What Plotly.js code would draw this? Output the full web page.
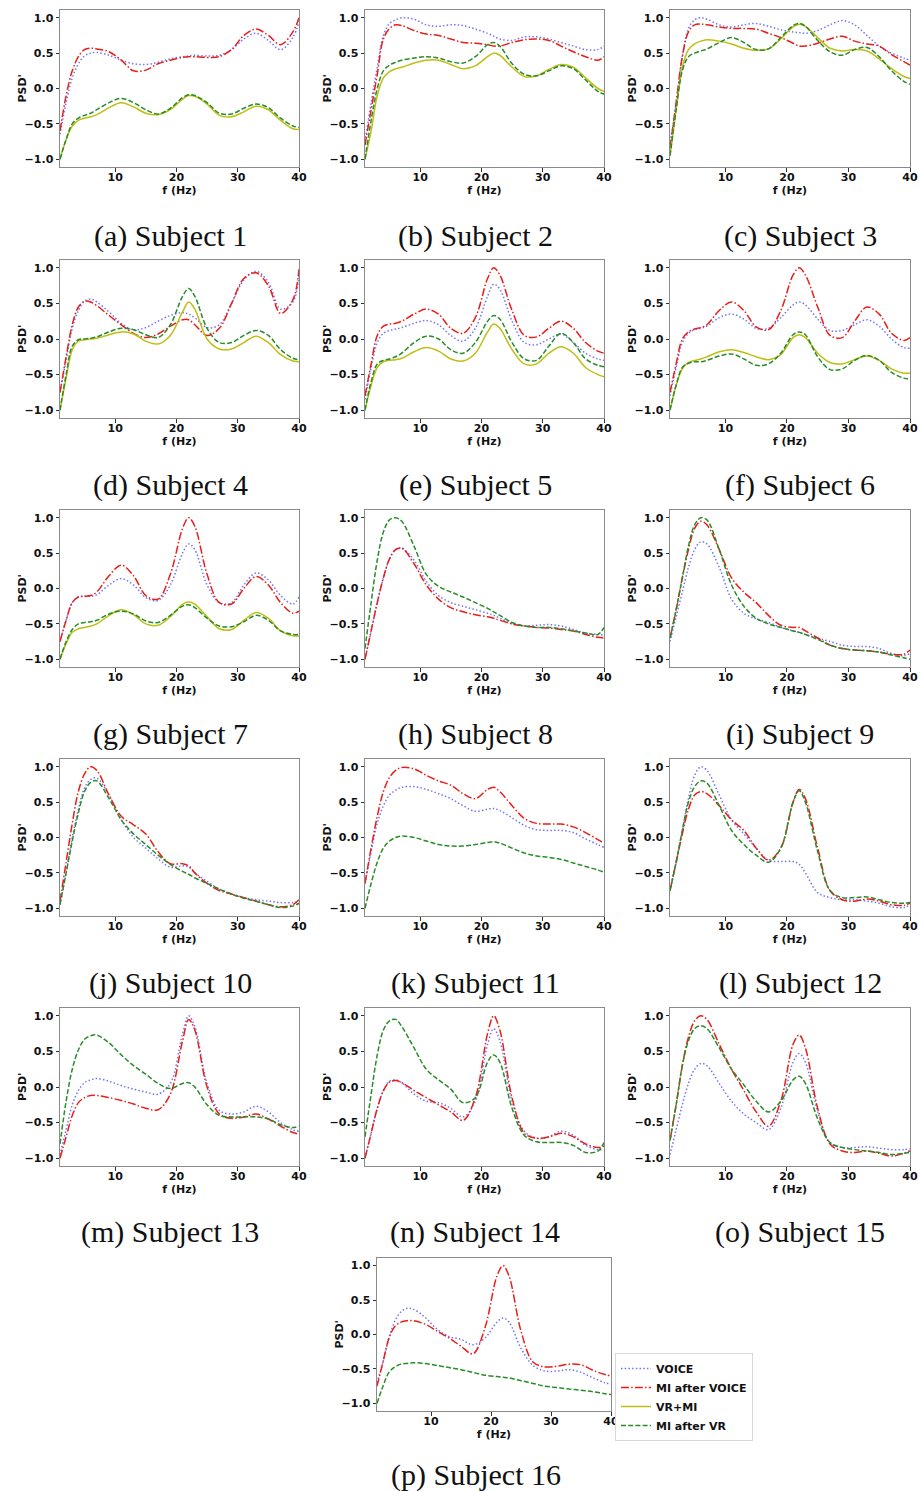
<!DOCTYPE html>
<html>
<head>
<meta charset="utf-8">
<script src="https://cdn.plot.ly/plotly-3.0.1.min.js"></script>
<style>html,body{margin:0;padding:0;background:#fff;}#chart{width:921px;height:1491px;}</style>
</head>
<body>
<div id="chart"></div>
<script>
// Frequency grid (Hz)
const F = [1,2,3,4,5,6,7,9,11,13,15,17,19,21,22,23,25,27,29,31,33,35,37,39,40];

const SERIES_NAMES = ['VOICE','MI after VOICE','VR+MI','MI after VR'];
const CAPTIONS = ['(a) Subject 1','(b) Subject 2','(c) Subject 3','(d) Subject 4','(e) Subject 5','(f) Subject 6',
  '(g) Subject 7','(h) Subject 8','(i) Subject 9','(j) Subject 10','(k) Subject 11','(l) Subject 12',
  '(m) Subject 13','(n) Subject 14','(o) Subject 15','(p) Subject 16'];
const X_TICKS = [10,20,30,40];
const Y_TICKS = [-1,-0.5,0,0.5,1];
const X_TITLE = 'f (Hz)';
const Y_TITLE = "PSD'";

// VOICE (PSD') per subject
const VOICE = [
 [-0.65,-0.2,0.15,0.35,0.46,0.5,0.51,0.47,0.4,0.35,0.34,0.37,0.42,0.45,0.46,0.47,0.46,0.47,0.55,0.7,0.78,0.68,0.55,0.72,0.95],
 [-0.75,-0.2,0.3,0.75,0.92,0.97,1.0,0.98,0.9,0.88,0.9,0.89,0.84,0.78,0.74,0.7,0.68,0.73,0.73,0.7,0.65,0.6,0.55,0.55,0.6],
 [-0.8,-0.2,0.45,0.85,0.97,1.0,0.98,0.9,0.87,0.9,0.92,0.88,0.83,0.8,0.79,0.78,0.82,0.9,0.96,0.9,0.75,0.6,0.5,0.43,0.4],
 [-0.75,-0.3,0.15,0.4,0.53,0.56,0.52,0.38,0.22,0.13,0.16,0.25,0.33,0.37,0.35,0.3,0.16,0.2,0.5,0.83,0.95,0.8,0.42,0.52,0.9],
 [-0.85,-0.4,-0.05,0.08,0.12,0.14,0.16,0.22,0.26,0.2,0.05,-0.03,0.15,0.6,0.77,0.7,0.25,-0.05,-0.08,0.0,0.07,-0.05,-0.2,-0.28,-0.3],
 [-0.8,-0.4,-0.05,0.08,0.13,0.15,0.18,0.3,0.35,0.28,0.15,0.15,0.3,0.48,0.52,0.48,0.28,0.12,0.12,0.2,0.27,0.18,0.0,-0.12,-0.13],
 [-0.75,-0.45,-0.2,-0.12,-0.11,-0.11,-0.09,0.05,0.14,0.05,-0.13,-0.17,0.05,0.5,0.63,0.55,0.05,-0.2,-0.2,0.05,0.22,0.12,-0.1,-0.22,-0.12],
 [-1.0,-0.6,-0.2,0.15,0.42,0.55,0.57,0.4,0.1,-0.1,-0.2,-0.25,-0.3,-0.35,-0.38,-0.42,-0.5,-0.53,-0.52,-0.51,-0.53,-0.58,-0.63,-0.65,-0.66],
 [-0.75,-0.4,-0.05,0.3,0.55,0.66,0.63,0.3,-0.15,-0.35,-0.43,-0.48,-0.55,-0.6,-0.62,-0.65,-0.7,-0.75,-0.8,-0.82,-0.82,-0.85,-0.92,-0.95,-0.92],
 [-0.95,-0.5,0.0,0.4,0.7,0.82,0.84,0.6,0.25,0.0,-0.15,-0.3,-0.42,-0.4,-0.42,-0.5,-0.62,-0.73,-0.8,-0.85,-0.88,-0.9,-0.92,-0.92,-0.9],
 [-0.65,-0.2,0.2,0.45,0.6,0.67,0.71,0.72,0.68,0.62,0.55,0.45,0.37,0.4,0.41,0.38,0.28,0.17,0.11,0.1,0.1,0.07,-0.02,-0.1,-0.14],
 [-0.75,-0.35,0.1,0.55,0.88,1.0,0.95,0.6,0.25,0.05,-0.15,-0.32,-0.34,-0.34,-0.38,-0.5,-0.78,-0.85,-0.88,-0.88,-0.9,-0.93,-0.98,-0.99,-0.95],
 [-0.95,-0.6,-0.25,-0.05,0.06,0.1,0.12,0.08,0.02,-0.03,-0.07,-0.1,0.05,0.75,1.0,0.85,0.05,-0.33,-0.38,-0.35,-0.27,-0.35,-0.5,-0.6,-0.62],
 [-1.0,-0.65,-0.3,-0.05,0.08,0.1,0.06,-0.1,-0.2,-0.22,-0.3,-0.42,-0.2,0.6,0.82,0.65,-0.2,-0.62,-0.72,-0.7,-0.62,-0.68,-0.82,-0.88,-0.88],
 [-0.95,-0.6,-0.25,0.05,0.25,0.33,0.3,0.05,-0.2,-0.38,-0.5,-0.6,-0.3,0.35,0.47,0.35,-0.35,-0.78,-0.85,-0.85,-0.84,-0.86,-0.88,-0.88,-0.87],
 [-0.7,-0.4,-0.05,0.2,0.33,0.38,0.37,0.25,0.08,-0.03,-0.07,-0.15,-0.05,0.18,0.24,0.18,-0.2,-0.45,-0.53,-0.53,-0.51,-0.55,-0.63,-0.7,-0.72]
];

// MI after VOICE
const MI_AFTER_VOICE = [
 [-0.6,-0.1,0.25,0.45,0.55,0.57,0.56,0.52,0.4,0.25,0.26,0.35,0.4,0.44,0.45,0.45,0.44,0.45,0.55,0.75,0.84,0.75,0.62,0.8,1.0],
 [-0.8,-0.3,0.2,0.7,0.85,0.9,0.89,0.82,0.77,0.75,0.7,0.65,0.64,0.62,0.6,0.6,0.65,0.69,0.7,0.68,0.6,0.52,0.45,0.4,0.45],
 [-0.85,-0.2,0.45,0.8,0.9,0.91,0.9,0.87,0.85,0.85,0.84,0.78,0.72,0.64,0.6,0.6,0.64,0.7,0.74,0.67,0.63,0.6,0.48,0.38,0.33],
 [-0.75,-0.25,0.2,0.45,0.53,0.52,0.47,0.33,0.2,0.08,0.02,0.07,0.18,0.27,0.27,0.2,0.05,0.15,0.5,0.85,0.93,0.75,0.36,0.55,0.98],
 [-0.8,-0.35,0.05,0.18,0.21,0.22,0.25,0.35,0.42,0.35,0.15,0.08,0.3,0.85,1.0,0.9,0.4,0.05,0.03,0.15,0.25,0.15,-0.05,-0.17,-0.2],
 [-0.75,-0.35,0.0,0.1,0.14,0.16,0.2,0.4,0.52,0.4,0.17,0.13,0.4,0.9,1.0,0.9,0.45,0.05,0.02,0.25,0.45,0.35,0.08,-0.02,0.02],
 [-0.75,-0.45,-0.2,-0.12,-0.11,-0.1,-0.05,0.18,0.33,0.18,-0.1,-0.15,0.2,0.85,1.0,0.88,0.2,-0.2,-0.22,0.0,0.17,0.05,-0.2,-0.35,-0.32],
 [-1.0,-0.6,-0.2,0.15,0.42,0.55,0.57,0.35,0.05,-0.15,-0.27,-0.33,-0.37,-0.4,-0.42,-0.45,-0.5,-0.53,-0.55,-0.56,-0.58,-0.6,-0.65,-0.69,-0.7],
 [-0.7,-0.3,0.15,0.55,0.85,0.95,0.9,0.55,0.15,-0.05,-0.2,-0.38,-0.52,-0.55,-0.55,-0.6,-0.7,-0.8,-0.85,-0.87,-0.88,-0.9,-0.93,-0.93,-0.87],
 [-0.9,-0.35,0.2,0.65,0.9,1.0,0.95,0.6,0.3,0.18,0.05,-0.2,-0.37,-0.37,-0.4,-0.5,-0.65,-0.75,-0.8,-0.85,-0.9,-0.95,-0.98,-0.95,-0.88],
 [-0.65,-0.15,0.3,0.65,0.85,0.95,0.99,0.97,0.88,0.8,0.74,0.62,0.55,0.68,0.71,0.65,0.45,0.27,0.2,0.19,0.19,0.15,0.07,-0.03,-0.08],
 [-0.75,-0.35,0.05,0.4,0.6,0.65,0.62,0.45,0.25,0.1,-0.15,-0.32,-0.15,0.5,0.68,0.55,-0.15,-0.75,-0.88,-0.9,-0.87,-0.9,-0.95,-0.96,-0.93],
 [-1.0,-0.7,-0.4,-0.22,-0.15,-0.12,-0.12,-0.15,-0.19,-0.24,-0.3,-0.32,-0.1,0.65,0.95,0.8,0.0,-0.38,-0.44,-0.42,-0.38,-0.45,-0.55,-0.64,-0.66],
 [-1.0,-0.65,-0.3,-0.05,0.07,0.09,0.06,-0.05,-0.15,-0.25,-0.35,-0.47,-0.15,0.75,1.0,0.8,-0.15,-0.65,-0.72,-0.7,-0.65,-0.7,-0.8,-0.85,-0.83],
 [-0.75,-0.25,0.3,0.7,0.93,1.0,0.95,0.6,0.25,-0.05,-0.35,-0.55,-0.2,0.6,0.73,0.55,-0.3,-0.8,-0.9,-0.92,-0.9,-0.93,-0.97,-0.93,-0.9],
 [-0.75,-0.4,-0.05,0.12,0.18,0.2,0.2,0.15,0.05,-0.05,-0.17,-0.28,0.1,0.85,1.0,0.85,0.05,-0.4,-0.47,-0.46,-0.43,-0.44,-0.52,-0.58,-0.6]
];

// VR+MI (only subjects 1-7)
const VR_MI = [
 [-1.0,-0.72,-0.53,-0.45,-0.42,-0.4,-0.37,-0.27,-0.2,-0.26,-0.35,-0.37,-0.3,-0.15,-0.1,-0.11,-0.22,-0.38,-0.4,-0.33,-0.25,-0.3,-0.45,-0.57,-0.58],
 [-1.0,-0.6,-0.1,0.15,0.24,0.28,0.3,0.36,0.4,0.4,0.34,0.28,0.32,0.45,0.5,0.47,0.3,0.17,0.18,0.27,0.34,0.3,0.15,0.0,-0.04],
 [-0.95,-0.3,0.3,0.55,0.63,0.67,0.69,0.67,0.63,0.57,0.54,0.56,0.7,0.87,0.91,0.88,0.72,0.57,0.53,0.55,0.53,0.42,0.28,0.17,0.14],
 [-1.0,-0.55,-0.15,-0.03,-0.01,0.0,0.01,0.06,0.1,0.07,-0.03,-0.07,0.05,0.38,0.52,0.42,0.0,-0.14,-0.14,-0.05,0.04,-0.05,-0.22,-0.31,-0.32],
 [-1.0,-0.65,-0.4,-0.32,-0.3,-0.29,-0.27,-0.18,-0.12,-0.17,-0.28,-0.31,-0.2,0.1,0.21,0.15,-0.15,-0.35,-0.35,-0.2,-0.11,-0.2,-0.4,-0.5,-0.53],
 [-1.0,-0.65,-0.42,-0.33,-0.3,-0.28,-0.25,-0.18,-0.15,-0.19,-0.25,-0.29,-0.22,0.02,0.06,0.02,-0.2,-0.33,-0.35,-0.29,-0.24,-0.3,-0.42,-0.48,-0.48],
 [-1.0,-0.78,-0.62,-0.57,-0.55,-0.53,-0.5,-0.38,-0.3,-0.37,-0.5,-0.52,-0.4,-0.22,-0.19,-0.22,-0.4,-0.57,-0.58,-0.45,-0.34,-0.42,-0.6,-0.67,-0.67],
 null,null,null,null,null,null,null,null,null
];

// MI after VR
const MI_AFTER_VR = [
 [-1.0,-0.72,-0.5,-0.42,-0.38,-0.35,-0.3,-0.2,-0.14,-0.2,-0.3,-0.36,-0.28,-0.13,-0.09,-0.1,-0.2,-0.35,-0.36,-0.28,-0.22,-0.27,-0.42,-0.53,-0.55],
 [-1.0,-0.45,0.0,0.25,0.33,0.37,0.4,0.43,0.45,0.43,0.38,0.36,0.45,0.62,0.65,0.6,0.35,0.2,0.18,0.25,0.32,0.28,0.12,-0.04,-0.08],
 [-0.95,-0.3,0.25,0.45,0.5,0.53,0.56,0.65,0.72,0.65,0.55,0.56,0.72,0.89,0.92,0.88,0.68,0.52,0.47,0.55,0.58,0.45,0.25,0.1,0.06],
 [-1.0,-0.5,-0.1,-0.01,0.0,0.01,0.03,0.1,0.15,0.13,0.06,0.02,0.2,0.6,0.71,0.6,0.15,-0.05,-0.05,0.05,0.12,0.05,-0.15,-0.27,-0.29],
 [-1.0,-0.6,-0.35,-0.3,-0.28,-0.25,-0.2,-0.05,0.04,0.0,-0.15,-0.2,-0.05,0.25,0.33,0.28,-0.05,-0.28,-0.3,-0.1,0.08,-0.05,-0.28,-0.37,-0.39],
 [-1.0,-0.65,-0.4,-0.34,-0.32,-0.32,-0.3,-0.24,-0.21,-0.28,-0.37,-0.35,-0.2,0.06,0.1,0.06,-0.25,-0.43,-0.42,-0.3,-0.23,-0.3,-0.47,-0.55,-0.56],
 [-1.0,-0.75,-0.58,-0.5,-0.48,-0.47,-0.45,-0.36,-0.32,-0.36,-0.46,-0.48,-0.38,-0.25,-0.23,-0.27,-0.42,-0.53,-0.54,-0.47,-0.38,-0.45,-0.6,-0.65,-0.65],
 [-0.85,-0.2,0.4,0.8,0.97,1.0,0.95,0.6,0.2,0.03,-0.05,-0.12,-0.2,-0.28,-0.33,-0.38,-0.48,-0.53,-0.55,-0.55,-0.57,-0.6,-0.63,-0.65,-0.55],
 [-0.7,-0.3,0.15,0.6,0.9,1.0,0.97,0.55,0.05,-0.25,-0.42,-0.5,-0.55,-0.6,-0.62,-0.65,-0.72,-0.8,-0.85,-0.87,-0.88,-0.9,-0.94,-0.98,-1.0],
 [-0.95,-0.5,-0.05,0.35,0.65,0.78,0.8,0.55,0.25,0.05,-0.1,-0.25,-0.38,-0.48,-0.52,-0.57,-0.65,-0.73,-0.8,-0.86,-0.9,-0.95,-0.99,-0.97,-0.93],
 [-1.0,-0.65,-0.35,-0.15,-0.05,0.0,0.02,0.0,-0.05,-0.1,-0.12,-0.12,-0.1,-0.07,-0.06,-0.08,-0.15,-0.22,-0.26,-0.28,-0.31,-0.36,-0.41,-0.46,-0.49],
 [-0.75,-0.35,0.1,0.5,0.72,0.8,0.77,0.45,0.1,-0.1,-0.25,-0.35,-0.15,0.5,0.66,0.5,-0.2,-0.75,-0.85,-0.85,-0.84,-0.88,-0.92,-0.93,-0.92],
 [-0.8,-0.2,0.25,0.52,0.67,0.72,0.73,0.62,0.45,0.3,0.18,0.05,-0.02,0.05,0.06,0.0,-0.25,-0.4,-0.42,-0.42,-0.42,-0.45,-0.53,-0.57,-0.55],
 [-0.7,-0.1,0.45,0.8,0.93,0.95,0.85,0.55,0.25,0.1,-0.03,-0.22,-0.15,0.35,0.45,0.35,-0.3,-0.68,-0.77,-0.78,-0.78,-0.82,-0.92,-0.9,-0.78],
 [-0.75,-0.25,0.3,0.65,0.82,0.86,0.82,0.55,0.25,0.03,-0.2,-0.35,-0.2,0.1,0.15,0.05,-0.45,-0.78,-0.85,-0.88,-0.9,-0.92,-0.95,-0.93,-0.92],
 [-1.0,-0.75,-0.55,-0.47,-0.43,-0.42,-0.41,-0.42,-0.45,-0.48,-0.51,-0.55,-0.59,-0.61,-0.62,-0.63,-0.67,-0.71,-0.75,-0.77,-0.79,-0.81,-0.83,-0.86,-0.87]
];

// ---- styling & layout (not data) ----
const W = 921, H = 1491;
const STYLES = [
  {color:'rgba(70,70,245,0.75)', dash:'1.5px,2.2px', width:1.5},
  {color:'rgb(232,30,25)', dash:'8px,2.2px,1.5px,2.2px', width:1.5},
  {color:'rgb(190,190,20)', dash:'solid', width:1.5},
  {color:'rgb(40,140,40)', dash:'5px,2.2px', width:1.5}
];
const SERIES = [VOICE, MI_AFTER_VOICE, VR_MI, MI_AFTER_VR];

const colX = [[60,299],[365,604],[670,910]];
const rowY = [[10,167],[260,418],[510,667],[759,916],[1008,1166]];
const capX = [170,475,800];
const capY0 = 236, capDY = 249;

function boxes(i){
  if(i<15){ const r=Math.floor(i/3), c=i%3; return {x:colX[c], y:rowY[r], cx:capX[c], cy:capY0+capDY*r}; }
  return {x:[377,611], y:[1258,1411], cx:476, cy:1475};
}

const tickFont = {family:'DejaVu Sans', size:11, color:'#111', weight:'bold'};
const traces = [];
const layout = {
  width:W, height:H, margin:{l:0,r:0,t:0,b:0},
  paper_bgcolor:'#fff', plot_bgcolor:'#fff',
  showlegend:true,
  legend:{x:615/W, y:1-1353/H, xanchor:'left', yanchor:'top', bgcolor:'#fff',
          bordercolor:'#d8d8d8', borderwidth:1, itemwidth:30,
          font:{family:'DejaVu Sans', size:11, color:'#111', weight:'bold'}, tracegroupgap:0},
  annotations:[]
};

for(let i=0;i<16;i++){
  const b = boxes(i);
  const xa = 'xaxis'+(i+1), ya = 'yaxis'+(i+1);
  layout[xa] = {domain:[b.x[0]/W, b.x[1]/W], anchor:'y'+(i+1), range:[1,40],
    tickvals:X_TICKS, ticks:'outside', ticklen:3.5, tickwidth:1, tickcolor:'#333',
    ticklabelstandoff:-4,
    showgrid:false, zeroline:false, showline:true, mirror:true, linecolor:'#8a8a8a', linewidth:1,
    tickfont:tickFont, title:{text:X_TITLE, font:tickFont, standoff:0}};
  layout[ya] = {domain:[1-b.y[1]/H, 1-b.y[0]/H], anchor:'x'+(i+1), range:[-1.11,1.11],
    tickvals:Y_TICKS, tickformat:'.1f', ticks:'outside', ticklen:3.5, tickwidth:1, tickcolor:'#333',
    showgrid:false, zeroline:false, showline:true, mirror:true, linecolor:'#8a8a8a', linewidth:1,
    tickfont:tickFont};
  for(let s=0;s<4;s++){
    const ys = SERIES[s][i];
    if(!ys) continue;
    traces.push({x:F, y:ys, xaxis:'x'+(i+1), yaxis:'y'+(i+1), type:'scatter', mode:'lines',
      name:SERIES_NAMES[s], legendgroup:SERIES_NAMES[s], showlegend:(i===0),
      line:{shape:'spline', smoothing:1, color:STYLES[s].color, dash:STYLES[s].dash, width:STYLES[s].width},
      hoverinfo:'skip'});
  }
  // y-axis title
  layout.annotations.push({xref:'paper', yref:'paper', x:(b.x[0]-38)/W, y:1-((b.y[0]+b.y[1])/2)/H,
    xanchor:'center', yanchor:'middle', textangle:-90, text:Y_TITLE, showarrow:false, font:tickFont});
  // caption
  layout.annotations.push({xref:'paper', yref:'paper', x:b.cx/W, y:1-b.cy/H, xanchor:'center', yanchor:'middle',
    text:CAPTIONS[i], showarrow:false, font:{family:'Liberation Serif', size:30, color:'#111'}});
}

Plotly.newPlot('chart', traces, layout, {staticPlot:true, displayModeBar:false});
</script>
</body>
</html>
